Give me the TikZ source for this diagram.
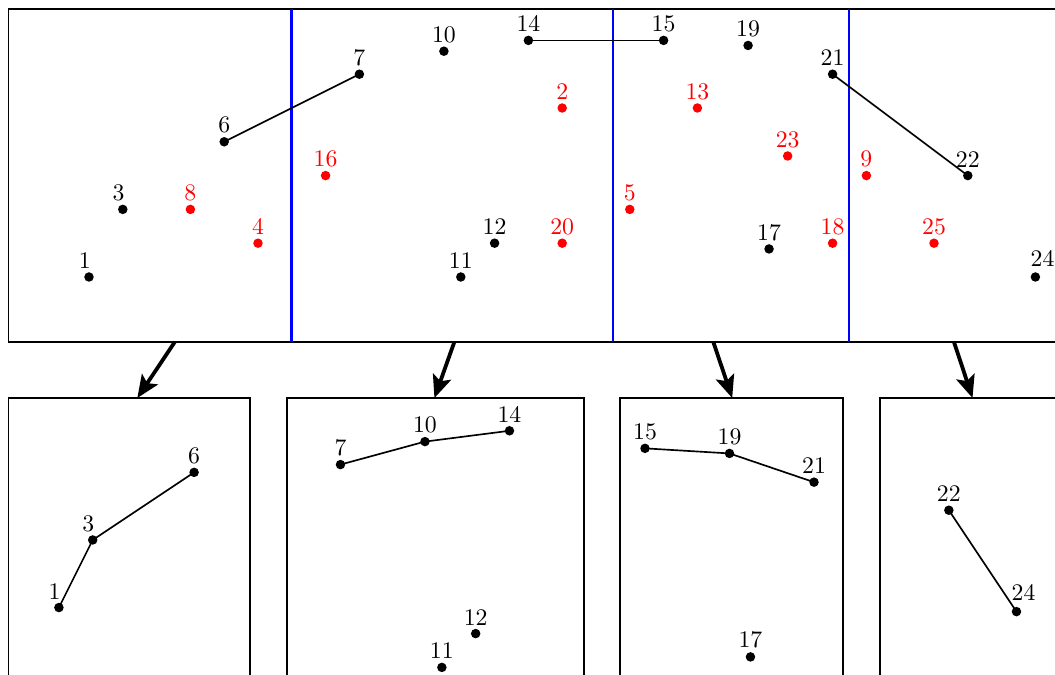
\documentclass[tikz,border=0pt]{standalone}
\usepackage{tikz}
\usetikzlibrary{arrows.meta}

\tikzset{
  box/.style={line width=0.75pt},
  link/.style={line width=0.7pt},
  split/.style={line width=1.1pt, blue},
  feed/.style={ultra thick, -{Stealth[length=9.5pt, width=8pt, inset=2pt]}},
  mid/.style={},
  lft/.style={xshift=-1.8pt},
  rgt/.style={xshift=3pt, yshift=1pt}
}

\begin{document}
\begin{tikzpicture}[x=0.5cm, y=0.5cm]
    \useasboundingbox (-2.633,-11.775) rectangle (28.58,8.195);
    \clip (-2.633,-11.775) rectangle (28.58,8.195);

    % Whole set with its split lines
    \draw[box] (-2.38,-1.92) rectangle (30,7.93);
    \foreach \s in {6, 15.5, 22.48}
        \draw[split] (\s,-1.92) -- (\s,7.93);

    % Black points
    \foreach \n/\x/\y/\o in {1/0/0/lft, 3/1/2/lft, 6/4/4/mid, 7/8/6/mid, 10/10.5/6.68/mid,
                             11/11/0/mid, 12/12/1/mid, 14/13/7/mid, 15/17/7/mid,
                             19/19.5/6.85/mid, 17/20.12/0.83/mid, 21/22/6/mid,
                             22/26/3/mid, 24/28/0/rgt} {
        \coordinate (p\n) at (\x,\y);
        \fill (p\n) circle (2pt);
        \node[above, \o] (l\n) at (p\n) {\n};
    }
    % Red points
    \foreach \n/\x/\y in {2/14/5, 4/5/1, 5/16/2, 8/3/2, 9/23/3, 13/18/5, 16/7/3,
                          18/22/1, 20/14/1, 23/20.67/3.58, 25/25/1} {
        \coordinate (p\n) at (\x,\y);
        \fill[red] (p\n) circle (2pt);
        \node[above, red] (l\n) at (p\n) {\n};
    }
    \draw[link] (p6) -- (p7);
    \draw[link] (p14) -- (p15);
    \draw[link] (p21) -- (p22);

    % Arrows down to the parts
    \foreach \i/\sx/\tx in {1/2.54/1.43, 2/10.81/10.22, 3/18.47/19.03, 4/25.59/26.14} {
        \coordinate (s\i) at (\sx,-1.92);
        \coordinate (t\i) at (\tx,-3.58);
        \draw[feed] (s\i) -- (t\i);
    }

    % Parts
    \draw[box] (-2.38,-3.58) rectangle (4.76,-13);
    \draw[box] (5.85,-3.58) rectangle (14.64,-13);
    \draw[box] (15.72,-3.58) rectangle (22.31,-13);
    \draw[box] (23.40,-3.58) rectangle (30,-13);

    \begin{scope}[shift={(-0.89,-9.78)}]
        \foreach \n/\x/\y/\o in {1/0/0/lft, 3/1/2/lft, 6/4/4/mid} {
            \coordinate (q\n) at (\x,\y);
            \fill (q\n) circle (2pt);
            \node[above, \o] (m\n) at (q\n) {\n};
        }
    \end{scope}
    \begin{scope}[shift={(-0.56,-11.55)}]
        \foreach \n/\x/\y in {7/8/6, 10/10.5/6.68, 14/13/7, 12/12/1, 11/11/0} {
            \coordinate (q\n) at (\x,\y);
            \fill (q\n) circle (2pt);
            \node[above] (m\n) at (q\n) {\n};
        }
    \end{scope}
    \begin{scope}[shift={(-0.55,-12.07)}]
        \foreach \n/\x/\y in {15/17/7, 19/19.5/6.85, 21/22/6, 17/20.12/0.83} {
            \coordinate (q\n) at (\x,\y);
            \fill (q\n) circle (2pt);
            \node[above] (m\n) at (q\n) {\n};
        }
    \end{scope}
    \begin{scope}[shift={(-0.56,-9.9)}]
        \foreach \n/\x/\y/\o in {22/26/3/mid, 24/28/0/rgt} {
            \coordinate (q\n) at (\x,\y);
            \fill (q\n) circle (2pt);
            \node[above, \o] (m\n) at (q\n) {\n};
        }
    \end{scope}
    \draw[link] (q1) -- (q3) -- (q6);
    \draw[link] (q7) -- (q10) -- (q14);
    \draw[link] (q15) -- (q19) -- (q21);
    \draw[link] (q22) -- (q24);
\end{tikzpicture}
\end{document}
